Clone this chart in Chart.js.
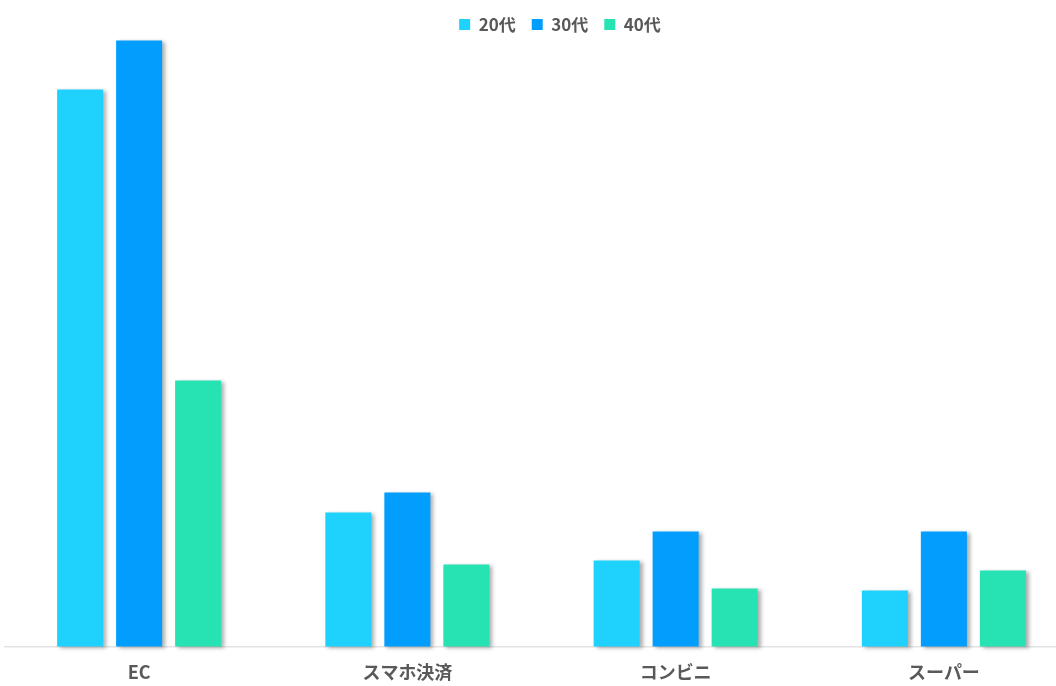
<!DOCTYPE html>
<html>
<head>
<meta charset="utf-8">
<script src="https://cdn.jsdelivr.net/npm/chart.js@4/dist/chart.umd.min.js"></script>
<style>
  html, body { margin: 0; padding: 0; background: #ffffff; overflow: hidden; }
  #wrap { width: 1120px; height: 686px; position: relative; }
</style>
</head>
<body>
<div id="wrap"><canvas id="c" width="1120" height="686"></canvas></div>
<script>
const categories = ["EC", "スマホ決済", "コンビニ", "スーパー"];
const seriesNames = ["20代", "30代", "40代"];
const values20s = [55.7, 13.4, 8.6, 5.6];
const values30s = [60.6, 15.4, 11.5, 11.5];
const values40s = [26.6, 8.2, 5.8, 7.6];
const seriesColors = ["#1fd2fe", "#019efe", "#27e3b3"];

const FONT = '"Noto Sans CJK JP", "Noto Sans", sans-serif';
const PX_PER_UNIT = 10;

const shadowPlugin = {
  id: 'barShadow',
  beforeDatasetsDraw(chart) {
    const ctx = chart.ctx;
    ctx.save();
    ctx.shadowColor = 'rgba(0,0,0,0.32)';
    ctx.shadowBlur = 4;
    ctx.shadowOffsetX = 3;
    ctx.shadowOffsetY = 1;
  },
  afterDatasetsDraw(chart) {
    chart.ctx.restore();
  }
};

const scaleFitPlugin = {
  id: 'scaleFit',
  afterLayout(chart) {
    const y = chart.scales.y;
    const want = (y.bottom - y.top) / PX_PER_UNIT;
    if (Math.abs((chart.options.scales.y.max || 0) - want) > 0.001) {
      chart.options.scales.y.max = want;
      setTimeout(() => chart.update('none'), 0);
    }
  }
};

new Chart(document.getElementById('c'), {
  type: 'bar',
  data: {
    labels: categories,
    datasets: [
      { label: seriesNames[0], data: values20s, backgroundColor: seriesColors[0] },
      { label: seriesNames[1], data: values30s, backgroundColor: seriesColors[1] },
      { label: seriesNames[2], data: values40s, backgroundColor: seriesColors[2] }
    ]
  },
  options: {
    responsive: false,
    animation: false,
    devicePixelRatio: 1,
    layout: { padding: { left: 5, right: 5, top: 0, bottom: 0 } },
    datasets: { bar: { categoryPercentage: 0.66, barPercentage: 0.78, borderWidth: 0, clip: false } },
    plugins: {
      legend: {
        position: 'top',
        align: 'center',
        labels: {
          boxWidth: 11,
          boxHeight: 11,
          padding: 16,
          color: '#595959',
          font: { family: FONT, size: 17, weight: 'bold' }
        }
      },
      tooltip: { enabled: false }
    },
    scales: {
      x: {
        grid: { display: false },
        border: { display: true, color: '#e3e3e3', width: 1.5 },
        ticks: {
          color: '#595959',
          padding: 7,
          font: { family: FONT, size: 18, weight: 'bold' }
        },
        afterFit(s) { s.height = 39.5; }
      },
      y: {
        position: 'right',
        bounds: 'data',
        min: 0,
        max: 60,
        grid: { display: false },
        border: { display: false },
        ticks: { display: false },
        afterFit(s) { s.width = 37; }
      }
    }
  },
  plugins: [shadowPlugin, scaleFitPlugin]
});
</script>
</body>
</html>
